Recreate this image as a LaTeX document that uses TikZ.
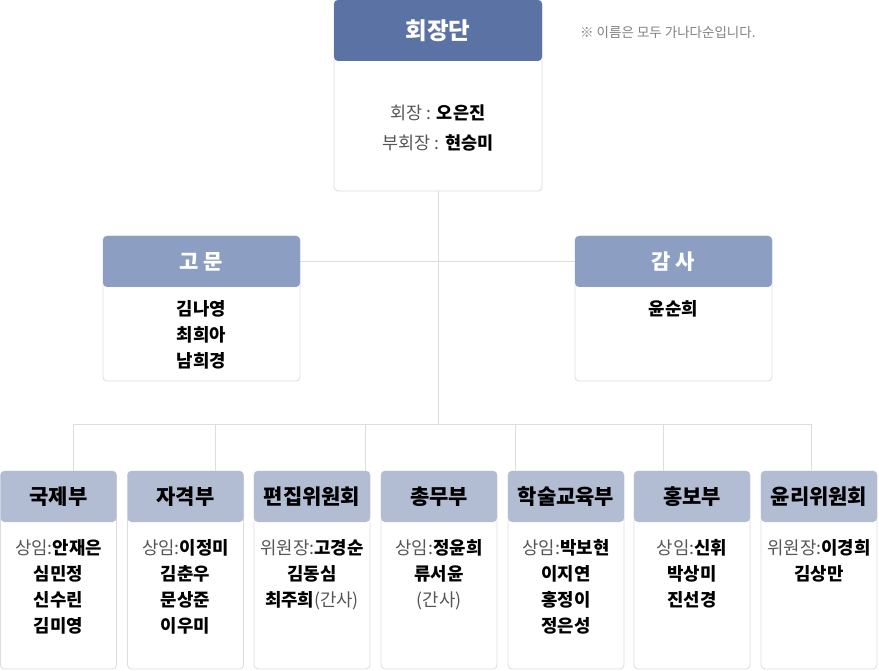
\documentclass[tikz,border=0pt]{standalone}
\usepackage{fontspec}
\setmainfont{Noto Sans CJK KR}
\usetikzlibrary{positioning,calc}

\definecolor{hqblue}{HTML}{5B72A4}
\definecolor{midblue}{HTML}{8C9FC2}
\definecolor{lowblue}{HTML}{B2BDD4}
\definecolor{lineg}{HTML}{DDDDDD}
\definecolor{rolegray}{HTML}{555555}
\newcommand{\rolelbl}[1]{{\mdseries\color{rolegray}#1}}

\begin{document}
\begin{tikzpicture}[
    x=1pt, y=-1pt,
    link/.style={draw=lineg, line width=1pt},
    card/.style={draw=lineg, fill=white, rounded corners=4pt, line width=0.8pt, inner sep=0pt},
    head/.style={rounded corners=4pt, inner sep=0pt, font=\fontsize{21pt}{21pt}\selectfont\bfseries},
    names/.style={align=center, inner sep=0pt, anchor=north, font=\fontsize{17.8pt}{26pt}\selectfont\bfseries}
]
    \useasboundingbox (0,0) rectangle (879,671);

    % connectors first, cards on top
    \coordinate (hub) at (438,424);
    \coordinate (bus-l) at (73,424);
    \coordinate (bus-r) at (811,424);

    \node[card, minimum width=208pt, minimum height=191pt] (hq) at (438,95.5) {};
    \node[card, minimum width=197pt, minimum height=145pt] (gomun) at (201.5,308.5) {};
    \node[card, minimum width=197pt, minimum height=145pt] (gamsa) at (673.5,308.5) {};
    \draw[link] (hq.south) -- (hub);
    \draw[link] (gomun.east |- 0,261.5) -- (gamsa.west |- 0,261.5);
    \draw[link] (bus-l) -- (bus-r);
    \foreach \i/\x in {1/73, 2/215, 3/365, 4/515, 5/663, 6/811}
        \draw[link] (\x,424) -- (\x,471);

    % top and middle cards
    \node[head, fill=hqblue, text=white, minimum width=208pt, minimum height=61pt, font=\fontsize{23.5pt}{23.5pt}\selectfont\bfseries] (hq-h) at (438,30.5) {회장단};
    \node[align=center, inner sep=0pt, font=\fontsize{17.5pt}{30pt}\selectfont\bfseries] (hq-t) at (438,128) {\rolelbl{회장 : }오은진\\\rolelbl{부회장 : }현승미};
    \node[head, fill=midblue, text=white, minimum width=197pt, minimum height=51pt] (gomun-h) at (201.5,261.5) {고 문};
    \node[head, fill=midblue, text=white, minimum width=197pt, minimum height=51pt] (gamsa-h) at (673.5,261.5) {감 사};
    \node[names] (gomun-t) at (201.5,300) {김나영\\최희아\\남희경};
    \node[names] (gamsa-t) at (673.5,300) {윤순희};
    \node[anchor=west, inner sep=0pt, text=gray, font=\fontsize{13.5pt}{13.5pt}\selectfont] (note) at (580,32) {※ 이름은 모두 가나다순입니다.};

    % department cards
    \foreach \n/\x/\t in {kukje/58.5/국제부, jagyeok/185.5/자격부, pyeonjip/312/편집위원회, chongmu/439/총무부, haksul/566/학술교육부, hongbo/692/홍보부, yulli/819/윤리위원회} {
        \node[card, minimum width=116pt, minimum height=198pt] (\n) at (\x,570) {};
        \node[head, fill=lowblue, minimum width=116pt, minimum height=51pt] (\n-h) at (\x,496.5) {\t};
    }
    \node[names] (kukje-t) at (58.5,539.5) {\rolelbl{상임:}안재은\\심민정\\신수린\\김미영};
    \node[names] (jagyeok-t) at (185.5,539.5) {\rolelbl{상임:}이정미\\김춘우\\문상준\\이우미};
    \node[names] (pyeonjip-t) at (312,539.5) {\rolelbl{위원장:}고경순\\김동심\\최주희\rolelbl{(간사)}};
    \node[names] (chongmu-t) at (439,539.5) {\rolelbl{상임:}정윤희\\류서윤\\\rolelbl{(간사)}};
    \node[names] (haksul-t) at (566,539.5) {\rolelbl{상임:}박보현\\이지연\\홍정이\\정은성};
    \node[names] (hongbo-t) at (692,539.5) {\rolelbl{상임:}신휘\\박상미\\진선경};
    \node[names] (yulli-t) at (819,539.5) {\rolelbl{위원장:}이경희\\김상만};
\end{tikzpicture}
\end{document}
